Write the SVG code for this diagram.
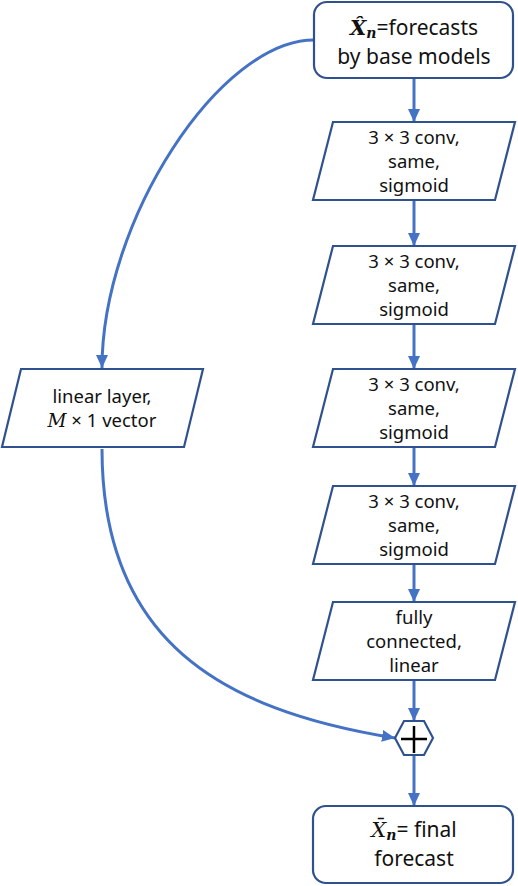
<svg xmlns="http://www.w3.org/2000/svg" width="518" height="886" viewBox="0 0 518 886">
<style>
.shape{fill:#fff;stroke:#2F528F;stroke-width:2.2}
.conn{fill:none;stroke:#4472C4;stroke-width:3}
text{font-family:"Noto Sans","Open Sans",sans-serif;fill:#111;text-anchor:middle}
.t20{font-size:21px}
.t17{font-size:18.5px}
.m{font-family:"DejaVu Serif","Liberation Serif",serif;font-style:italic}
</style>
<defs>
<marker id="ah" markerUnits="userSpaceOnUse" markerWidth="14" markerHeight="14" viewBox="0 0 14 14" refX="13" refY="7" orient="auto">
<path d="M0,1 L13,7 L0,13 Z" fill="#4472C4"/>
</marker>
</defs>
<g id="connectors">
<line class="conn" x1="414" y1="78" x2="414" y2="122" marker-end="url(#ah)"/>
<line class="conn" x1="414" y1="200" x2="414" y2="246" marker-end="url(#ah)"/>
<line class="conn" x1="414" y1="324" x2="414" y2="369" marker-end="url(#ah)"/>
<line class="conn" x1="414" y1="447" x2="414" y2="486" marker-end="url(#ah)"/>
<line class="conn" x1="414" y1="564" x2="414" y2="602" marker-end="url(#ah)"/>
<line class="conn" x1="414" y1="680" x2="414" y2="721" marker-end="url(#ah)"/>
<line class="conn" x1="414" y1="755" x2="414" y2="806" marker-end="url(#ah)"/>
<path class="conn" d="M314,40 C220,40 102,220 102,368" marker-end="url(#ah)"/>
<path class="conn" d="M102,449 C102,640 220,710 395,738" marker-end="url(#ah)"/>
</g>
<g id="input">
<rect class="shape" x="314" y="2" width="199" height="76" rx="13"/>
<text class="t20" x="414" y="35"><tspan class="m" font-weight="bold">X̂</tspan><tspan class="m" font-weight="bold" font-size="14" dy="3">n</tspan><tspan dy="-3">=forecasts</tspan></text>
<text class="t20" x="414" y="64">by base models</text>
</g>
<g id="conv1">
<polygon class="shape" points="333,122 515,122 495,200 313,200"/>
<text class="t17" x="414" y="144">3 × 3 conv,</text>
<text class="t17" x="414" y="168">same,</text>
<text class="t17" x="414" y="192">sigmoid</text>
</g>
<g id="conv2">
<polygon class="shape" points="333,246 515,246 495,324 313,324"/>
<text class="t17" x="414" y="268">3 × 3 conv,</text>
<text class="t17" x="414" y="292">same,</text>
<text class="t17" x="414" y="316">sigmoid</text>
</g>
<g id="conv3">
<polygon class="shape" points="333,369 515,369 495,447 313,447"/>
<text class="t17" x="414" y="391">3 × 3 conv,</text>
<text class="t17" x="414" y="415">same,</text>
<text class="t17" x="414" y="439">sigmoid</text>
</g>
<g id="conv4">
<polygon class="shape" points="333,486 515,486 495,564 313,564"/>
<text class="t17" x="414" y="508">3 × 3 conv,</text>
<text class="t17" x="414" y="532">same,</text>
<text class="t17" x="414" y="556">sigmoid</text>
</g>
<g id="fc">
<polygon class="shape" points="333,602 515,602 495,680 313,680"/>
<text class="t17" x="414" y="624">fully</text>
<text class="t17" x="414" y="648">connected,</text>
<text class="t17" x="414" y="672">linear</text>
</g>
<g id="linear">
<polygon class="shape" points="21,369 203,369 184,447 2,447"/>
<text class="t17" x="102" y="403">linear layer,</text>
<text class="t17" x="102" y="427"><tspan class="m">M</tspan> × 1 vector</text>
</g>
<g id="sum">
<polygon class="shape" points="395,738 404,721 424,721 433,738 424,755 404,755"/>
<path d="M401,739 H427 M414,726 V753" stroke="#000" stroke-width="2.5" fill="none"/>
</g>
<g id="output">
<rect class="shape" x="313" y="806" width="200" height="77" rx="13"/>
<text class="t20" x="414" y="837"><tspan class="m">X̄</tspan><tspan class="m" font-weight="bold" font-size="14" dy="3">n</tspan><tspan dy="-3">= final</tspan></text>
<text class="t20" x="414" y="866">forecast</text>
</g>
</svg>
